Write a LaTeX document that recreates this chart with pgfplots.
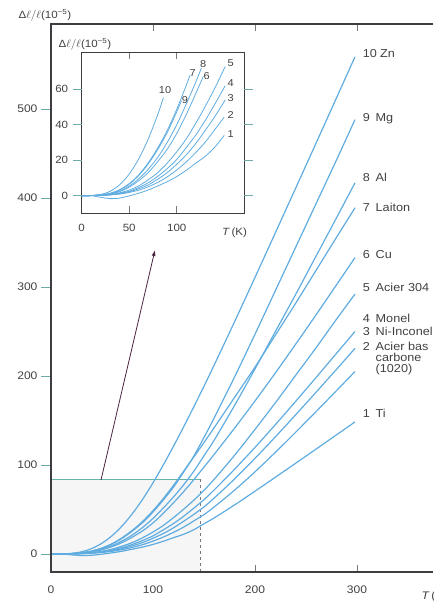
\documentclass[border=0pt]{standalone}
\usepackage{fontspec}
\setmainfont{Liberation Sans}[FakeStretch=1.1]
\usepackage{pgfplots}
\pgfplotsset{compat=1.18}
\usepackage{pgfplotstable}
\usetikzlibrary{arrows.meta}
\definecolor{curve}{RGB}{95,172,225}
\definecolor{framegray}{RGB}{60,60,65}
\definecolor{tickteal}{RGB}{110,170,165}
\definecolor{tickgray}{RGB}{120,120,120}
\definecolor{labelgray}{RGB}{65,65,65}
\definecolor{arrowc}{RGB}{75,35,65}
\definecolor{recttop}{RGB}{100,180,170}
\definecolor{rectfill}{RGB}{246,246,246}

\pgfplotstableread{
T c1 c2 c3 c4 c5 c6 c7 c8 c9 c10
0 0 0 0 0 0 0 0 0 0 0
10 0 0.05 0.06 0.06 0.06 0.07 0.1 0.07 0.1 0.1
20 -0.9 0.13 0.17 0.2 0.26 0.35 0.46 0.4 0.45 0.7
30 -1.65 0.45 0.5 0.55 0.65 1.0 1.35 1.2 1.3 2.5
40 -1.35 0.9 1.2 1.4 1.6 2.3 3.4 2.6 3.3 6.2
50 -0.1 1.85 2.2 2.5 3.2 4.8 6.8 5.5 6.5 12.2
60 1.4 3.1 3.9 4.6 5.5 8.4 11.7 9.5 11.4 20.7
70 3.2 5.0 6.1 7.3 9.0 13.0 18.5 14.9 17.9 31.9
80 5.5 7.5 9.3 10.9 13.0 19.2 26.9 21.6 26.0 45.7
90 7.9 10.6 13.0 15.3 18.4 26.2 36.8 30.0 35.6 61.8
100 10.8 14.5 17.7 20.4 24.7 35.0 48.7 40.0 47.2 80.0
110 14.3 19.0 23.0 27.1 32.0 45.7 62.2 51.6 60.6 99.9
120 18.3 24.3 29.4 34.2 40.8 57.5 77.0 64.0 75.0 120.9
130 22.2 30.2 36.8 42.4 50.3 70.0 93.0 77.7 92.0 142.8
140 27.3 37.2 44.5 51.5 60.5 83.5 109.0 93.0 110.0 165.4
150 34.0 44.3 53.0 61.1 71.6 97.7 125.3 110.4 131.0 188.6
160 40.6 52.9 62.9 72.0 84.0 112.0 142.0 128.0 153.0 212.4
180 55.2 71.8 84.4 95.3 111.0 141.5 176.0 167.0 199.0 261.1
200 70.6 92.4 107.5 119.8 140.0 172.0 210.0 208.0 247.0 310.8
220 86.3 114.3 131.7 145.4 170.0 203.5 246.0 250.0 296.0 361.0
240 102.1 137.0 156.6 171.7 201.0 236.0 282.0 292.0 345.0 411.4
260 118.0 160.2 182.0 198.5 232.0 269.0 319.0 335.0 394.0 462.0
280 134.0 183.7 207.6 225.6 264.0 302.6 356.0 378.0 443.0 512.8
298 148.4 205.0 231.0 250.0 292.0 333.0 389.0 417.0 488.0 558.6
}\data

\begin{document}
\begin{tikzpicture}
% ---------- main axis ----------
\begin{axis}[
  at={(51pt,32pt)}, anchor=south west, scale only axis,
  width=392pt, height=548pt,
  xmin=0, xmax=384.3, ymin=-20.2, ymax=595.5,
  axis line style={draw=none},
  tick align=inside, major tick length=7pt,
  xtick={0,100,200,300}, ytick={0,100,200,300,400,500},
  major x tick style={draw=tickgray, line width=0.6pt},
  major y tick style={draw=none},
  tick label style={font=\fontsize{11}{13}\selectfont, text=labelgray},
  xticklabel style={yshift=-10pt}, yticklabel style={xshift=-10pt},
  ytick pos=left,
  /pgf/number format/assume math mode=true,
]
\fill[rectfill] (0,-20.2) rectangle (146,84);
\draw[recttop, line width=0.7pt] (0,84) -- (146,84);
\draw[tickgray, dashed, line width=0.6pt] (146,84) -- (146,-20.2);
\foreach \c in {c1,c2,c3,c4,c5,c6,c7,c8,c9,c10}{
  \addplot[curve, line width=1.2pt, smooth, no markers] table[x=T,y=\c]{\data};
}
\end{axis}
\begin{axis}[
  at={(51pt,32pt)}, anchor=south west, scale only axis,
  width=392pt, height=548pt,
  xmin=0, xmax=384.3, ymin=-20.2, ymax=595.5,
  axis line style={draw=none},
  xtick=\empty, ytick={0,100,200,300,400,500}, yticklabels={}, ytick pos=left,
  tick align=outside, major tick length=10pt,
  major y tick style={draw=tickteal, line width=0.6pt},
]
\addplot[draw=none] coordinates {(0,0)};
\end{axis}
% main frame lines (left, top, bottom)
\draw[color=framegray, line width=1.1pt] (433pt,580pt) -- (51pt,580pt) -- (51pt,32pt) -- (433pt,32pt);
% ---------- inset ----------
\begin{axis}[
  at={(81.7pt,391pt)}, anchor=south west, scale only axis,
  width=162.3pt, height=161pt,
  xmin=0, xmax=170.8, ymin=-9.75, ymax=81,
  axis line style={draw=framegray, line width=0.9pt},
  tick align=inside, major tick length=7pt,
  xtick={0,50,100}, ytick={0,20,40,60},
  major x tick style={draw=tickgray, line width=0.6pt},
  major y tick style={draw=none},
  tick label style={font=\fontsize{10.5}{12}\selectfont, text=labelgray},
  xticklabel style={yshift=-8pt}, yticklabel style={xshift=-10pt},
  /pgf/number format/assume math mode=true,
]
\addplot[curve, line width=0.8pt, smooth] coordinates {(0,0)(10,0)(20,-0.9)(30,-1.65)(40,-1.35)(50,-0.1)(60,1.4)(70,3.2)(80,5.5)(90,7.9)(100,10.8)(110,14.3)(120,18.3)(130,22.2)(140,27.3)(150,34)};
\addplot[curve, line width=0.8pt, smooth] coordinates {(0,0)(10,0.05)(20,0.13)(30,0.45)(40,0.9)(50,1.85)(60,3.1)(70,5)(80,7.5)(90,10.6)(100,14.5)(110,19)(120,24.3)(130,30.2)(140,37.2)(150,44.3)};
\addplot[curve, line width=0.8pt, smooth] coordinates {(0,0)(10,0.06)(20,0.17)(30,0.5)(40,1.2)(50,2.2)(60,3.9)(70,6.1)(80,9.3)(90,13)(100,17.7)(110,23)(120,29.4)(130,36.8)(140,44.5)(151,54)};
\addplot[curve, line width=0.8pt, smooth] coordinates {(0,0)(10,0.06)(20,0.2)(30,0.55)(40,1.4)(50,2.5)(60,4.6)(70,7.3)(80,10.9)(90,15.3)(100,20.4)(110,27.1)(120,34.2)(130,42.4)(140,51.5)(151,62)};
\addplot[curve, line width=0.8pt, smooth] coordinates {(0,0)(10,0.06)(20,0.26)(30,0.65)(40,1.6)(50,3.2)(60,5.5)(70,9)(80,13)(90,18.4)(100,24.7)(110,32)(120,40.8)(130,50.3)(140,60.5)(151,72.8)};
\addplot[curve, line width=0.8pt, smooth] coordinates {(0,0)(10,0.07)(20,0.35)(30,1)(40,2.3)(50,4.8)(60,8.4)(70,13)(80,19.2)(90,26.2)(100,35)(110,45.7)(120,57.5)(128,67.3)};
\addplot[curve, line width=0.8pt, smooth] coordinates {(0,0)(10,0.1)(20,0.46)(30,1.35)(40,3.4)(50,6.8)(60,11.7)(70,18.5)(80,26.9)(90,36.8)(100,48.7)(110,62.2)(114,68)};
\addplot[curve, line width=0.8pt, smooth] coordinates {(0,0)(10,0.07)(20,0.4)(30,1.2)(40,2.6)(50,5.5)(60,9.5)(70,14.9)(80,21.6)(90,30)(100,40)(110,51.6)(120,64)(126,72)};
\addplot[curve, line width=0.8pt, smooth] coordinates {(0,0)(10,0.1)(20,0.45)(30,1.3)(40,3.3)(50,6.5)(60,11.4)(70,17.9)(80,26)(90,35.6)(100,47.2)(105,53.6)};
\addplot[curve, line width=0.8pt, smooth] coordinates {(0,0)(10,0.1)(20,0.7)(30,2.5)(40,6.2)(50,12.2)(60,20.7)(70,31.9)(80,45.7)(86,55.3)};
\end{axis}
\begin{axis}[
  at={(81.7pt,391pt)}, anchor=south west, scale only axis,
  width=162.3pt, height=161pt,
  xmin=0, xmax=170.8, ymin=-9.75, ymax=81,
  axis line style={draw=none},
  xtick=\empty, ytick={0,20,40,60}, yticklabels={}, ytick pos=both,
  tick align=outside, major tick length=9pt,
  major y tick style={draw=tickteal, line width=0.6pt},
]
\addplot[draw=none] coordinates {(0,0)};
\end{axis}
% ---------- arrow ----------
\draw[arrowc, line width=0.8pt, -{Latex[length=6pt,width=4pt]}] (101pt,124pt) -- (155pt,354pt);
% ---------- titles ----------
\node[font=\fontsize{10.5}{12}\selectfont, text=labelgray] at (45pt,589pt) {Δ$\ell/\ell$(10\textsuperscript{−5})};
\node[font=\fontsize{10.5}{12}\selectfont, text=labelgray] at (85pt,560pt) {Δ$\ell/\ell$(10\textsuperscript{−5})};
\node[font=\fontsize{10.5}{12}\selectfont, text=labelgray] at (234.5pt,371pt) {\textit{T}\,(K)};
\node[anchor=west, font=\fontsize{11}{13}\selectfont, text=labelgray] at (418pt,7pt) {\textit{T}\,(K)};
% ---------- inset numbers ----------
\begin{scope}[every node/.style={font=\fontsize{10}{12}\selectfont, text=labelgray}]
\node at (165pt,514pt) {10};
\node at (185pt,504pt) {9};
\node at (192.7pt,531.3pt) {7};
\node at (203.3pt,540pt) {8};
\node at (206.7pt,528pt) {6};
\node at (230.7pt,540.7pt) {5};
\node at (230.7pt,521.3pt) {4};
\node at (230.7pt,505.7pt) {3};
\node at (230.7pt,489pt) {2};
\node at (230.7pt,469.7pt) {1};
\end{scope}
% ---------- right labels ----------
\begin{scope}[every node/.style={anchor=base west, font=\fontsize{11.5}{13}\selectfont, text=labelgray, inner sep=0pt}]
\node at (362.7pt,546pt) {10}; \node at (380pt,546pt) {Zn};
\node at (362.7pt,482pt) {9}; \node at (375.5pt,482pt) {Mg};
\node at (362.7pt,422pt) {8}; \node at (375.5pt,422pt) {Al};
\node at (362.7pt,392pt) {7}; \node at (375.5pt,392pt) {Laiton};
\node at (362.7pt,345pt) {6}; \node at (375.5pt,345pt) {Cu};
\node at (362.7pt,312pt) {5}; \node at (375.5pt,312pt) {Acier 304};
\node at (362.7pt,281pt) {4}; \node at (375.5pt,281pt) {Monel};
\node at (362.7pt,268pt) {3}; \node at (375.5pt,268pt) {Ni-Inconel};
\node at (362.7pt,253pt) {2}; \node at (375.5pt,253pt) {Acier bas};
\node at (375.5pt,242pt) {carbone};
\node at (375.5pt,231pt) {(1020)};
\node at (362.7pt,186pt) {1}; \node at (375.5pt,186pt) {Ti};
\end{scope}
\pgfresetboundingbox
\useasboundingbox (0pt,0pt) rectangle (433pt,604pt);
\end{tikzpicture}
\end{document}
